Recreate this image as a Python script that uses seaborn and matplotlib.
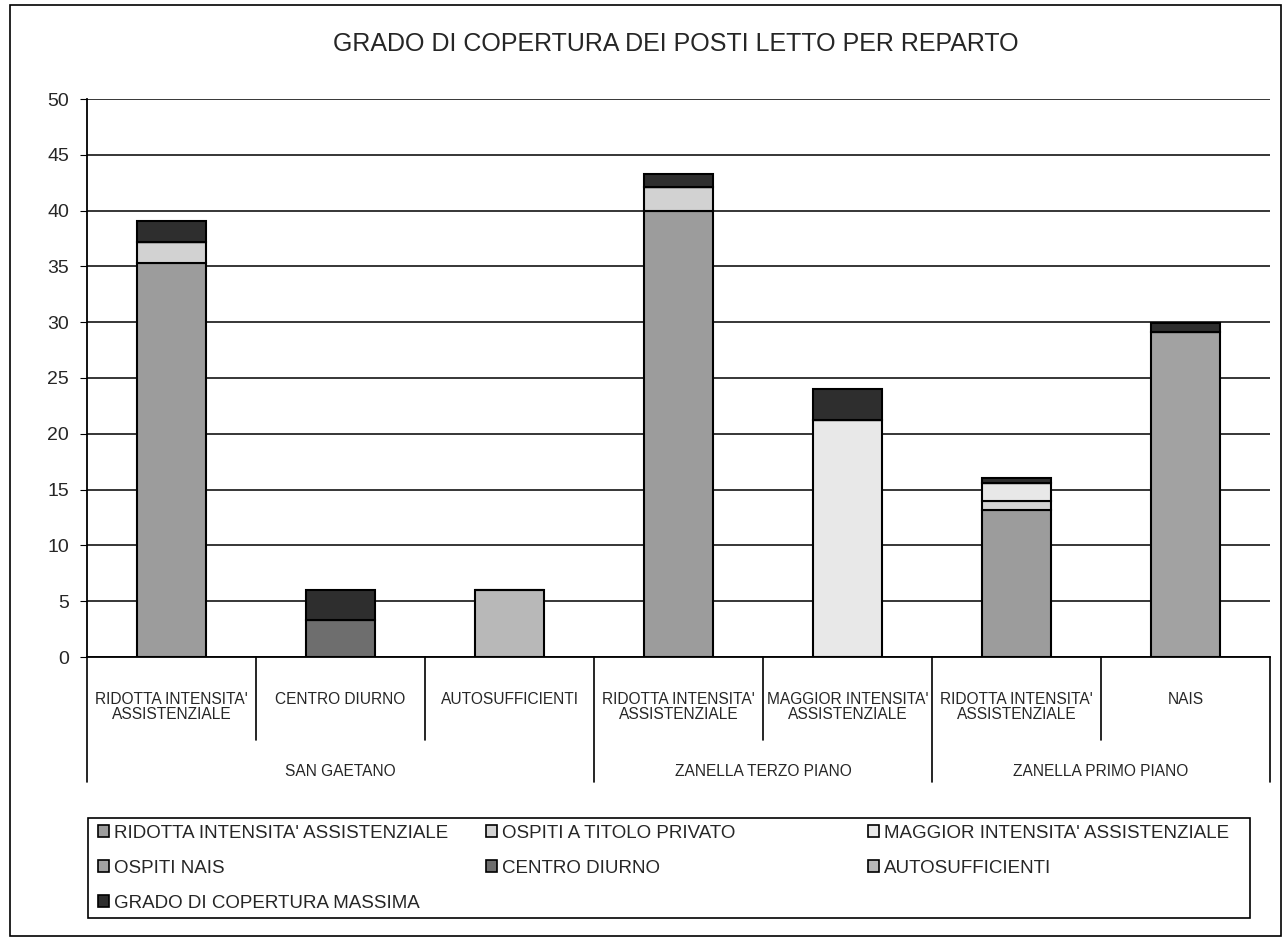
import numpy as np
import pandas as pd
import seaborn as sns
import matplotlib.pyplot as plt
from matplotlib.patches import Rectangle, Patch

# categories (one bar each) and the three buildings they belong to
bar_keys = ['sg_ria', 'sg_cd', 'sg_auto', 'z3_ria', 'z3_mia', 'z1_ria', 'z1_nais']
bar_labels = ["RIDOTTA INTENSITA'\nASSISTENZIALE", 'CENTRO DIURNO', 'AUTOSUFFICIENTI',
              "RIDOTTA INTENSITA'\nASSISTENZIALE", "MAGGIOR INTENSITA'\nASSISTENZIALE",
              "RIDOTTA INTENSITA'\nASSISTENZIALE", 'NAIS']
groups = ['SAN GAETANO', 'ZANELLA TERZO PIANO', 'ZANELLA PRIMO PIANO']
group_sizes = [3, 2, 2]

# series values (stack order bottom -> top)
series = ["RIDOTTA INTENSITA' ASSISTENZIALE", 'OSPITI A TITOLO PRIVATO',
          "MAGGIOR INTENSITA' ASSISTENZIALE", 'OSPITI NAIS', 'CENTRO DIURNO',
          'AUTOSUFFICIENTI', 'GRADO DI COPERTURA MASSIMA']
ria = [35.3, 0, 0, 40.0, 0, 13.2, 0]
privato = [1.9, 0, 0, 2.1, 0, 0.8, 0]
mia = [0, 0, 0, 0, 21.2, 1.6, 0]
nais = [0, 0, 0, 0, 0, 0, 29.1]
centro = [0, 3.3, 0, 0, 0, 0, 0]
auto = [0, 0, 6.0, 0, 0, 0, 0]
grado = [1.9, 2.7, 0, 1.2, 2.8, 0.4, 0.8]
values = [ria, privato, mia, nais, centro, auto, grado]

colors = ['#9c9c9c', '#d2d2d2', '#e8e8e8', '#a2a2a2', '#6e6e6e', '#b8b8b8', '#2e2e2e']

sns.set_style('white')
plt.rcParams['font.family'] = ['Liberation Sans', 'DejaVu Sans']

fig = plt.figure(figsize=(12.88, 9.41), dpi=100)
ax = fig.add_axes([87 / 1288, 1 - 657 / 941, 1183 / 1288, 558 / 941])

# stacked bars, one seaborn call per series
bottom = np.zeros(len(bar_keys))
for name, vals, col in zip(series, values, colors):
    df = pd.DataFrame({'reparto': bar_keys, 'posti': vals})
    sns.barplot(data=df, x='reparto', y='posti', order=bar_keys, color=col,
                saturation=1, width=0.41, bottom=bottom, edgecolor='black',
                linewidth=1.5, ax=ax, errorbar=None)
    bottom = bottom + np.array(vals)

ax.set_xlim(-0.5, 6.5)
ax.set_ylim(0, 50)
ax.set_yticks(range(0, 51, 5))
ax.yaxis.grid(True, color='black', lw=1.1)
ax.set_axisbelow(True)
ax.set_xticks([])
ax.set_xlabel('')
ax.set_ylabel('')
ax.tick_params(axis='y', labelsize=14, length=5, pad=8, direction='out',
               color='black', left=True)
for s in ['top', 'right']:
    ax.spines[s].set_visible(False)
for s in ['left', 'bottom']:
    ax.spines[s].set_color('black')
    ax.spines[s].set_linewidth(1.3)

# two-level category table under the axis
trans = ax.get_xaxis_transform()
edges = np.cumsum([0] + group_sizes) - 0.5
for i in range(len(bar_keys) + 1):
    x = i - 0.5
    y_end = -0.224 if x in edges else -0.149
    ax.plot([x, x], [0, y_end], color='black', lw=1.2, transform=trans, clip_on=False)
for i, lab in enumerate(bar_labels):
    ax.text(i, -0.062, lab, transform=trans, ha='center', va='top', fontsize=11.2,
            linespacing=1.0)
for g, lo, hi in zip(groups, edges[:-1], edges[1:]):
    ax.text((lo + hi) / 2, -0.206, g, transform=trans, ha='center', va='center', fontsize=11.2)

fig.text(0.525, 1 - 44 / 941, 'GRADO DI COPERTURA DEI POSTI LETTO PER REPARTO',
         ha='center', va='center', fontsize=18)

# legend: three columns at fixed positions, filled row by row
handles = [Patch(facecolor=c, edgecolor='black', lw=1.2) for c in colors]
col_x = [98, 486, 868]
for c in range(3):
    idx = list(range(c, len(series), 3))
    fig.legend([handles[i] for i in idx], [series[i] for i in idx],
               loc='upper left', bbox_to_anchor=(col_x[c] / 1288, 1 - 825 / 941),
               frameon=False, fontsize=13.5, handlelength=0.6, handleheight=0.6,
               handletextpad=0.25, labelspacing=0.95, borderpad=0, borderaxespad=0)
fig.patches.append(Rectangle((88 / 1288, 1 - 918 / 941), 1162 / 1288, 100 / 941,
                             transform=fig.transFigure, fill=False, ec='black', lw=1.2))

# outer border of the whole chart
fig.patches.append(Rectangle((10 / 1288, 1 - 936 / 941), 1271 / 1288, 931 / 941,
                             transform=fig.transFigure, fill=False, ec='black', lw=1.2))

fig.savefig('out.png', dpi=100)
